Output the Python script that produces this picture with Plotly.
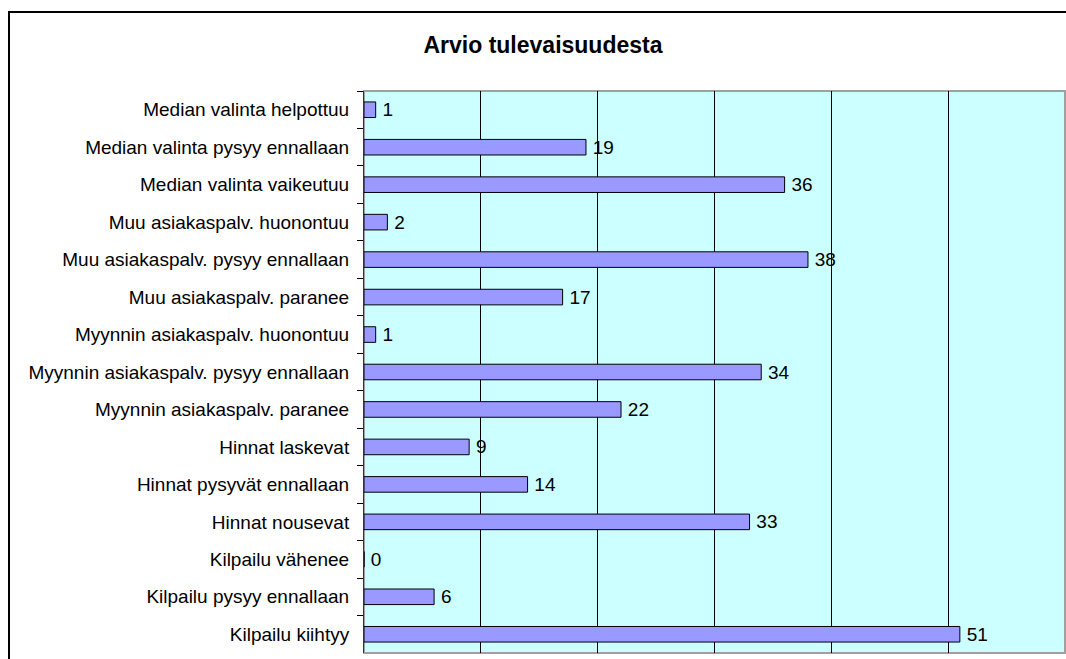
import plotly.graph_objects as go

categories = [
    'Median valinta helpottuu',
    'Median valinta pysyy ennallaan',
    'Median valinta vaikeutuu',
    'Muu asiakaspalv. huonontuu',
    'Muu asiakaspalv. pysyy ennallaan',
    'Muu asiakaspalv. paranee',
    'Myynnin asiakaspalv. huonontuu',
    'Myynnin asiakaspalv. pysyy ennallaan',
    'Myynnin asiakaspalv. paranee',
    'Hinnat laskevat',
    'Hinnat pysyvät ennallaan',
    'Hinnat nousevat',
    'Kilpailu vähenee',
    'Kilpailu pysyy ennallaan',
    'Kilpailu kiihtyy',
]
values = [1, 19, 36, 2, 38, 17, 1, 34, 22, 9, 14, 33, 0, 6, 51]

font = 'Arial, Liberation Sans, sans-serif'
W, H = 1066, 659
L, R, T, B = 364, 1, 91, 6
pw, ph = W - L - R, H - T - B

fig = go.Figure()
fig.add_trace(go.Bar(
    x=values, y=categories, orientation='h',
    marker=dict(color='#9999FF', line=dict(color='black', width=1)),
    texttemplate='\u2009%{x}', textposition='outside',
    textfont=dict(family=font, size=19, color='black'),
    constraintext='none', textangle=0,
    cliponaxis=False,
))

fig.update_layout(
    width=W, height=H,
    margin=dict(l=L, r=R, t=T, b=B),
    paper_bgcolor='white', plot_bgcolor='#CCFFFF',
    showlegend=False, bargap=0.584,
    font=dict(family=font, size=19, color='black'),
    title=dict(text='<b>Arvio tulevaisuudesta</b>', x=543 / W, xanchor='center',
               y=1 - 45 / H, yanchor='middle', yref='container',
               font=dict(family=font, size=23, color='black')),
)
fig.update_xaxes(range=[0, 60], dtick=10, showgrid=True, gridcolor='black', gridwidth=1,
                 zeroline=False, showticklabels=False, showline=False)
fig.update_yaxes(autorange='reversed', showline=True, linecolor='#333333', linewidth=1,
                 ticks='outside', tickson='boundaries', ticklen=6, tickcolor='black',
                 showgrid=False, ticklabelstandoff=10,
                 tickfont=dict(family=font, size=19, color='black'))

# plot-area border
fig.add_shape(type='rect', xref='paper', yref='paper', x0=0, x1=1, y0=0, y1=1,
              line=dict(color='#a0a0a0', width=2), layer='below')
# outer chart frame (runs off the right and bottom edges)
fig.add_shape(type='rect', xref='paper', yref='paper',
              x0=(9 - L) / pw, x1=1.2, y0=-0.2, y1=(H - B - 12) / ph,
              line=dict(color='black', width=2))

fig.write_html('out.html', config={'displayModeBar': False},
               post_script="document.body.style.margin='0';")
